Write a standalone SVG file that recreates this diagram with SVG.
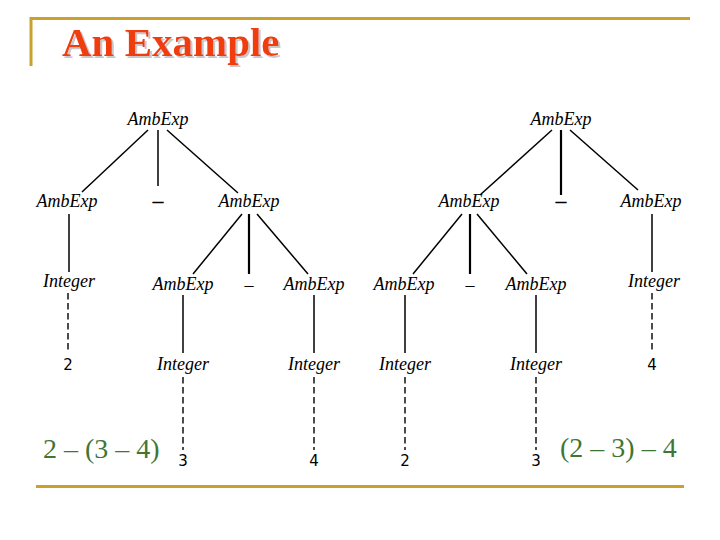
<svg xmlns="http://www.w3.org/2000/svg" width="720" height="540" viewBox="0 0 720 540">
<defs>
<filter id="shadow" x="-5%" y="-20%" width="115%" height="150%">
<feFlood flood-color="#c8c8c8"/>
<feComposite in2="SourceAlpha" operator="in"/>
<feOffset dx="2" dy="2" result="sh"/>
<feMerge><feMergeNode in="sh"/><feMergeNode in="SourceGraphic"/></feMerge>
</filter>
</defs>
<style>
.frame{stroke:#c9a12c;stroke-width:3;fill:none}
.nt{font-family:"Liberation Serif",serif;font-style:italic;font-size:18px;fill:#000;text-anchor:middle}
.op{font-family:"Liberation Serif",serif;font-size:18px;fill:#000;text-anchor:middle}
.opb{font-family:"Liberation Serif",serif;font-size:22px;font-weight:bold;fill:#000;text-anchor:middle}
.num{font-family:"DejaVu Sans",sans-serif;font-size:15px;fill:#000;text-anchor:middle}
.expr{font-family:"Liberation Serif",serif;font-size:28px;fill:#3f7636}
.e{stroke:#000;stroke-width:1.5;fill:none}
.eb{stroke:#000;stroke-width:2.2;fill:none}
.d{stroke:#000;stroke-width:1.4;stroke-dasharray:6.5 3.5;fill:none}
.title{font-family:"Liberation Serif",serif;font-weight:bold;font-size:41px;fill:#f03c10}
</style>
<path class="frame" d="M31 66V18.5H690"/>
<line class="frame" x1="36" y1="486.5" x2="684" y2="486.5"/>
<g id="title">
<text class="title" x="62" y="56" filter="url(#shadow)">An Example</text>
</g>
<g id="connectors">
<line class="e" x1="148" y1="130" x2="82" y2="192"/>
<line class="e" x1="158" y1="130" x2="158" y2="186"/>
<line class="e" x1="167" y1="130" x2="238" y2="193"/>
<line class="e" x1="69" y1="214" x2="69" y2="272"/>
<line class="e" x1="242" y1="214" x2="193" y2="274"/>
<line class="eb" x1="249" y1="214" x2="249" y2="274"/>
<line class="e" x1="257" y1="214" x2="308" y2="274"/>
<line class="d" x1="68" y1="293" x2="68" y2="352"/>
<line class="e" x1="183" y1="295" x2="183" y2="353"/>
<line class="d" x1="183" y1="377" x2="183" y2="450"/>
<line class="e" x1="314" y1="295" x2="314" y2="353"/>
<line class="d" x1="314" y1="377" x2="314" y2="450"/>
<line class="e" x1="552" y1="130" x2="480" y2="195"/>
<line class="eb" x1="561" y1="130" x2="561" y2="195"/>
<line class="e" x1="570" y1="130" x2="638" y2="190"/>
<line class="e" x1="462" y1="214" x2="413" y2="274"/>
<line class="eb" x1="470" y1="214" x2="470" y2="274"/>
<line class="e" x1="477" y1="214" x2="527" y2="274"/>
<line class="e" x1="652" y1="214" x2="652" y2="272"/>
<line class="e" x1="405" y1="295" x2="405" y2="353"/>
<line class="d" x1="405" y1="377" x2="405" y2="450"/>
<line class="e" x1="536" y1="295" x2="536" y2="353"/>
<line class="d" x1="536" y1="377" x2="536" y2="450"/>
<line class="d" x1="652" y1="293" x2="652" y2="352"/>
</g>
<g id="L-root"><text class="nt" x="158" y="125">AmbExp</text></g>
<g id="L-a"><text class="nt" x="67" y="207">AmbExp</text></g>
<g id="L-minus1"><text class="opb" x="158" y="208">–</text></g>
<g id="L-b"><text class="nt" x="249" y="207">AmbExp</text></g>
<g id="L-int2"><text class="nt" x="69" y="287">Integer</text></g>
<g id="L-c"><text class="nt" x="183" y="290">AmbExp</text></g>
<g id="L-minus2"><text class="op" x="249" y="291">–</text></g>
<g id="L-d"><text class="nt" x="314" y="290">AmbExp</text></g>
<g id="L-two"><text class="num" x="68" y="370">2</text></g>
<g id="L-int3"><text class="nt" x="183" y="370">Integer</text></g>
<g id="L-int4"><text class="nt" x="314" y="370">Integer</text></g>
<g id="L-three"><text class="num" x="183" y="466">3</text></g>
<g id="L-four"><text class="num" x="314" y="466">4</text></g>
<g id="L-expr"><text class="expr" x="43" y="458">2 – (3 – 4)</text></g>
<g id="R-root"><text class="nt" x="561" y="125">AmbExp</text></g>
<g id="R-a"><text class="nt" x="469" y="207">AmbExp</text></g>
<g id="R-minus1"><text class="opb" x="561" y="208">–</text></g>
<g id="R-b"><text class="nt" x="651" y="207">AmbExp</text></g>
<g id="R-c"><text class="nt" x="404" y="290">AmbExp</text></g>
<g id="R-minus2"><text class="op" x="470" y="291">–</text></g>
<g id="R-d"><text class="nt" x="536" y="290">AmbExp</text></g>
<g id="R-int4"><text class="nt" x="654" y="287">Integer</text></g>
<g id="R-int2"><text class="nt" x="405" y="370">Integer</text></g>
<g id="R-int3"><text class="nt" x="536" y="370">Integer</text></g>
<g id="R-four"><text class="num" x="652" y="370">4</text></g>
<g id="R-two"><text class="num" x="405" y="466">2</text></g>
<g id="R-three"><text class="num" x="536" y="466">3</text></g>
<g id="R-expr"><text class="expr" x="560" y="457">(2 – 3) – 4</text></g>
</svg>
